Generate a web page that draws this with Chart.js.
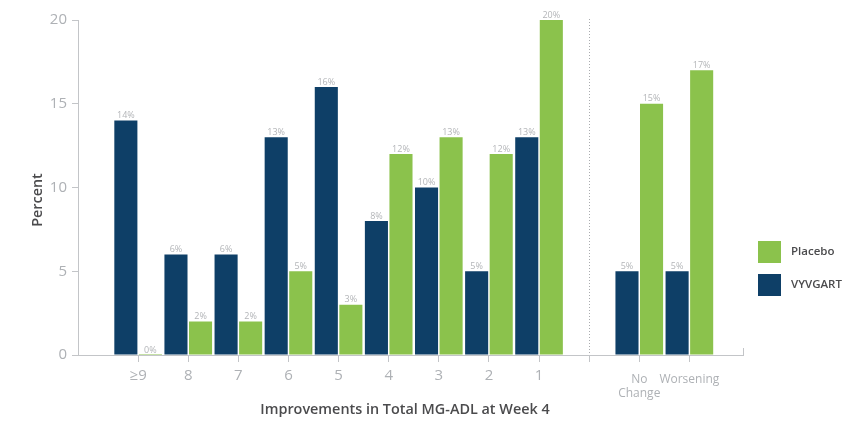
<!DOCTYPE html>
<html>
<head>
<meta charset="utf-8">
<script src="https://cdn.jsdelivr.net/npm/chart.js@4/dist/chart.umd.min.js"></script>
<style>
  html, body { margin: 0; padding: 0; background: #ffffff; }
  canvas { display: block; }
</style>
</head>
<body>
<canvas id="chart" width="848" height="422"></canvas>
<script>
// Share of patients by change in MG-ADL score at week 4
const categories = ['≥9', '8', '7', '6', '5', '4', '3', '2', '1', ['No', 'Change'], 'Worsening'];
const vyvgartValues = [14, 6, 6, 13, 16, 8, 10, 5, 13, 5, 5];
const placeboValues = [0, 2, 2, 5, 3, 12, 13, 12, 20, 15, 17];
const yTicks = [0, 5, 10, 15, 20];
const seriesNames = ['VYVGART', 'Placebo'];
const xTitle = 'Improvements in Total MG-ADL at Week 4';
const yTitle = 'Percent';

const NAVY = '#0e3f67';
const GREEN = '#8bc24c';
const AXIS = '#c3c5c8';
const TICK_TEXT = '#aeb1b5';
const DARK = '#4b4b4d';
const FONT = '"Open Sans", sans-serif';

// One empty slot separates the improvement groups from "No Change" / "Worsening"
const GAP_SLOT = 9;
const slotOf = i => (i < GAP_SLOT ? i : i + 1);
const categoryAt = pos => (pos < GAP_SLOT ? categories[pos] : pos === GAP_SLOT ? '' : categories[pos - 1]);
const toPoints = vals => vals.map((v, i) => ({ x: slotOf(i), y: v }));
const slotCount = categories.length + 1;

const decorations = {
  id: 'decorations',
  afterDatasetsDraw(chart) {
    const { ctx, chartArea: a, scales: { x, y } } = chart;
    ctx.save();

    // value labels above each bar
    ctx.font = '9px ' + FONT;
    ctx.fillStyle = '#b3b5b8';
    ctx.textAlign = 'center';
    ctx.textBaseline = 'alphabetic';
    chart.data.datasets.forEach((ds, di) => {
      chart.getDatasetMeta(di).data.forEach((bar, i) => {
        const v = ds.data[i].y;
        ctx.fillText(v + '%', bar.x, y.getPixelForValue(v) - 2.5);
      });
    });

    // dotted divider in the empty slot
    const dx = Math.round(x.getPixelForValue(GAP_SLOT)) + 0.5;
    ctx.strokeStyle = '#a9abae';
    ctx.lineWidth = 1;
    ctx.setLineDash([1, 2]);
    ctx.beginPath();
    ctx.moveTo(dx, a.top - 1);
    ctx.lineTo(dx, a.bottom);
    ctx.stroke();
    ctx.setLineDash([]);

    // closing tick at the right end of the x axis
    ctx.strokeStyle = AXIS;
    ctx.beginPath();
    ctx.moveTo(a.right + 0.5, a.bottom - 7);
    ctx.lineTo(a.right + 0.5, a.bottom);
    ctx.stroke();

    // axis titles
    ctx.fillStyle = DARK;
    ctx.font = '600 14.4px ' + FONT;
    ctx.textAlign = 'center';
    ctx.textBaseline = 'middle';
    ctx.fillText(xTitle, 405, 410);
    ctx.save();
    ctx.translate(37.5, 200);
    ctx.rotate(-Math.PI / 2);
    ctx.fillText(yTitle, 0, 0);
    ctx.restore();

    // legend, placebo listed first
    const items = chart.data.datasets.slice().reverse();
    ctx.font = '600 11.5px ' + FONT;
    ctx.textAlign = 'left';
    items.forEach((ds, k) => {
      const top = 241 + k * 33;
      ctx.fillStyle = ds.backgroundColor;
      ctx.fillRect(758, top, 23, 22);
      ctx.fillStyle = DARK;
      ctx.fillText(ds.label, 791, top + 11);
    });

    ctx.restore();
  }
};

new Chart(document.getElementById('chart'), {
  type: 'bar',
  data: {
    datasets: [
      { label: seriesNames[0], data: toPoints(vyvgartValues), backgroundColor: NAVY },
      { label: seriesNames[1], data: toPoints(placeboValues), backgroundColor: GREEN, minBarLength: 1 }
    ]
  },
  options: {
    responsive: false,
    animation: false,
    devicePixelRatio: 1,
    layout: { padding: { top: 20, right: 105, bottom: 0, left: 0 } },
    plugins: { legend: { display: false }, tooltip: { enabled: false } },
    datasets: { bar: { categoryPercentage: 0.98, barPercentage: 0.94 } },
    scales: {
      x: {
        type: 'linear',
        offset: false,
        min: -1.2,
        max: slotCount - 1 + 1.07,
        afterBuildTicks: s => { s.ticks = Array.from({ length: slotCount }, (_, i) => ({ value: i })); },
        afterFit: s => { s.height = 67; },
        grid: { offset: false, drawOnChartArea: false, drawTicks: true, tickLength: 7, color: AXIS },
        border: { color: AXIS, width: 1 },
        ticks: {
          color: TICK_TEXT,
          padding: 10.5,
          maxRotation: 0,
          autoSkip: false,
          callback: v => categoryAt(v),
          font: c => (c.index > GAP_SLOT
            ? { family: FONT, size: 12, lineHeight: '14px' }
            : { family: FONT, size: 15, lineHeight: '6px' })
        }
      },
      y: {
        min: 0,
        max: 20,
        afterBuildTicks: s => { s.ticks = yTicks.map(v => ({ value: v })); },
        afterFit: s => { s.width = 78; },
        grid: { drawOnChartArea: false, drawTicks: true, tickLength: 6, color: AXIS },
        border: { color: AXIS, width: 1 },
        ticks: { color: TICK_TEXT, padding: 5, font: { family: FONT, size: 15 } }
      }
    }
  },
  plugins: [decorations]
});
</script>
</body>
</html>
